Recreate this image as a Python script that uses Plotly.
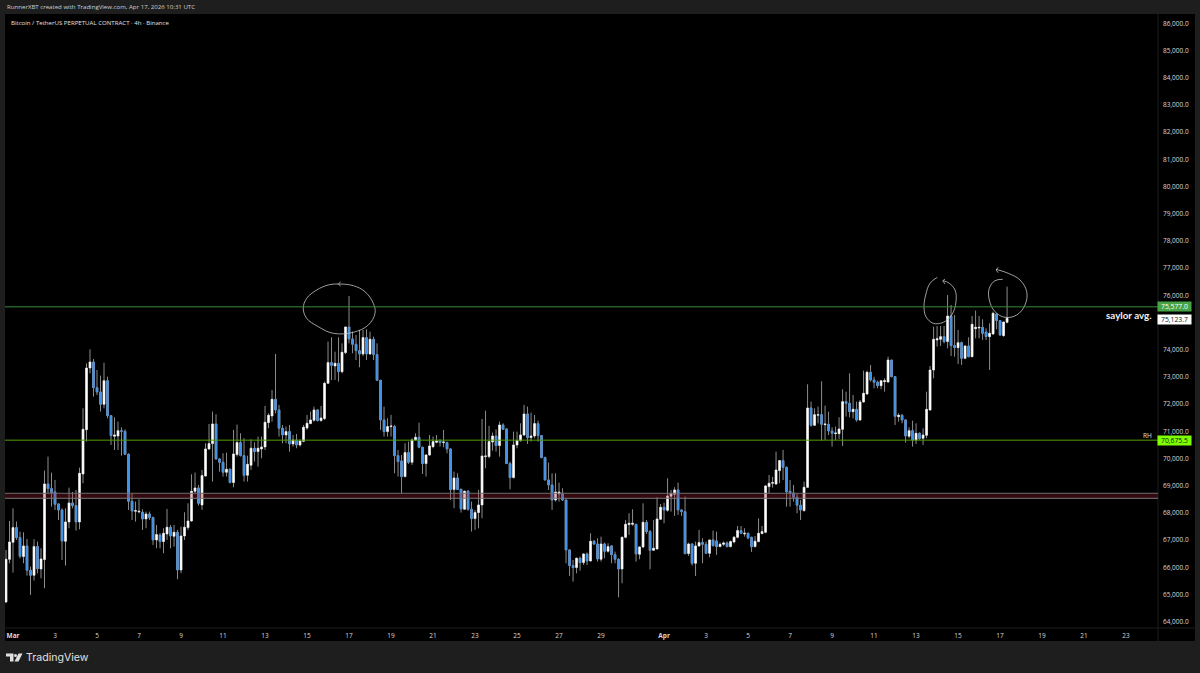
import pandas as pd
import plotly.graph_objects as go

# 4h candles
open_ = [64700,66268,66892,67431,67064,66366,66758,65863,65680,66733,
65912,66255,69036,68865,68742,68301,68080,66929,67640,68338,
68240,67640,69404,71033,73299,73520,72576,72417,71964,72833,
71547,70788,70800,70996,70971,70126,68399,68032,68007,67995,
67750,67933,67799,66978,67162,66917,67198,67444,67113,67260,
65875,67125,67431,67676,68767,68889,
68265,69331,70323,70519,71242,69956,69833,69466,69576,69086,
70115,70556,70078,69356,69723,70348,70225,70323,70397,71291,
71536,72148,71757,71083,70838,70960,70507,70654,70470,70605,
71095,71254,71377,71757,71365,71438,72737,73496,73374,73471,
73165,73864,74807,74366,74170,73937,73814,74415,73814,74354,
73790,72847,71389,70960,71144,71144,70078,
69882,69306,70188,69833,70654,70752,70384,69784,70102,70408,
70568,70617,70556,70556,70323,68828,69257,68840,68106,68767,
68106,67762,67983,68265,70041,70041,70580,70800,70445,71205,
71058,69784,69269,70470,70629,70837,71609,70739,70800,71254,
70813,70004,69183,69000,68448,68669,68693,68448,66611,66035,
65962,66305,66145,66464,66207,66930,66831,
66268,66831,66561,66758,66439,66268,65912,67076,67542,67554,
67554,66451,66721,67627,67284,66598,66647,67738,68178,68068,
68583,68656,68816,68080,68019,66476,66831,66120,66758,66880,
66819,66488,66978,66941,66733,66819,66868,66733,66905,67076,
67321,67198,67223,67076,66733,66917,67211,67260,68938,69060,
69036,69526,69894,69648,68766,68705,68546,68252,
68056,68913,71829,71192,71560,71584,71216,71229,70984,70886,
70886,71045,72062,72000,71694,71780,71388,72050,72343,73140,
72858,72772,72650,72797,72784,73593,72980,71510,71560,71388,
70788,70996,70653,70898,70714,70824,71755,
73225,74329,74353,74451,74268,75211,74121,74047,74231,73655,
74108,73716,74745,74770,74794,74623,74451,74550,75284,75040,
74488,74978]

high = [66610,67676,68142,67652,67284,67260,67015,65998,67003,66917,
66672,69526,70040,69452,69183,68326,68142,68142,68901,68742,
68816,69636,71817,73470,73985,73630,73225,73017,73495,72980,
71572,71486,71327,71118,71045,70163,68693,68387,68473,68105,
68019,68019,67836,67529,67223,67407,68117,67529,67529,67346,
67468,67995,68326,69391,69452,69000,
69551,70532,71242,71695,71597,69980,70164,70189,69613,71022,
71218,70899,70715,70078,70679,70568,70776,70776,71904,71634,
72491,73814,71940,71205,71144,71205,70838,70874,70679,71205,
71573,71695,71879,71781,71904,72798,74268,74427,73900,74427,
74206,74819,75946,74635,74513,74696,74696,74721,74635,74452,
74206,72859,71879,71450,71573,71205,70286,
70102,70531,70592,70715,70899,71290,70408,70127,70837,70776,
70837,70678,71021,70592,70347,69490,69428,68865,68791,68816,
68387,68081,68816,71425,71731,71168,70923,71045,71327,71266,
71082,69857,70960,70960,71266,71940,71878,71658,71572,71364,
70837,70041,69820,69428,69428,69085,68877,68473,66636,66243,
66329,66366,66489,66513,67224,66978,67040,
67100,66880,66855,66794,66549,66304,67100,67713,67958,68105,
67566,66733,68325,67713,67346,67713,68546,68301,68350,69244,
68816,68914,69085,68105,68570,66880,66855,66917,67346,67039,
66917,66990,67321,67284,66880,66917,66917,66953,67125,67492,
67492,67407,67247,67100,67125,67774,67492,69000,69367,69300,
70224,69918,70285,69673,69183,68999,68693,68448,
69122,72699,72062,71817,71878,72809,71915,71694,71118,71143,
71486,72515,72429,73103,72307,72062,72123,73201,73201,73409,
72980,72833,72858,72919,73715,73593,73005,71633,71608,71412,
71118,71363,71265,70935,71082,72429,73372,
74819,74843,74843,74843,75983,75615,75248,74697,74268,74145,
74427,75211,75407,75211,75089,74758,74941,75370,75309,75064,
74990,76289]

low = [64650,66120,65778,66978,66304,66120,65667,64957,65484,65753,
65569,65202,68693,68203,68080,67713,66243,66035,67407,68142,
67321,67370,69060,70592,73103,72246,72307,71694,71817,71449,
70469,70286,70286,70077,70102,68080,67713,67652,67958,67346,
67407,67713,66794,66672,66672,66488,66978,66672,66733,65533,
65753,66978,67346,67652,68693,68240,
68081,69307,70286,69123,69919,69490,69307,69307,69061,68914,
70041,70041,69123,69123,69552,69858,69674,69980,70286,71083,
71328,71634,70776,70532,70532,70225,70409,70348,70409,70568,
71022,71242,71328,71328,71328,71389,72712,72859,72859,72798,
73104,73814,74206,73839,73594,73324,73741,73594,73778,73594,
72822,71022,70776,70776,70776,69429,69307,
68693,69281,69771,69735,70629,70347,69404,69306,70065,70347,
70531,70408,70384,70163,68448,68142,68816,67983,68081,68057,
67285,67346,67407,67775,69612,69980,70261,70225,70041,71021,
69771,68840,69245,70347,70592,70800,70506,70592,70715,70592,
69980,69159,68816,68081,68387,68387,68412,66121,65655,65447,
65753,65851,66060,66060,66182,66795,66182,
66182,66304,66512,66120,66120,64871,65385,67039,67162,67500,
66182,66268,66672,67198,65900,66580,66635,67713,67590,68019,
68019,67860,67897,67860,66451,66390,66035,65655,66733,66120,
66463,66341,66733,66427,66708,66758,66708,66708,66855,67039,
67186,67100,67002,66537,66708,66892,67186,67223,68693,68900,
69000,69060,69183,68203,68203,68387,67958,67713,
68019,68889,71143,71168,71265,70629,70653,70837,70408,70653,
70690,70432,71510,71486,71449,71327,71351,72025,72307,72797,
72552,72552,72515,72429,72760,72956,71204,71327,71265,70555,
70714,70408,70506,70653,70469,70714,71731,
72920,74084,74108,74206,74023,73741,73716,73447,73410,73619,
73692,73692,74390,74390,74329,74329,73227,74513,74721,74476,
74451,74941]

close = [66268,66904,67431,67064,66378,66758,65863,65680,66733,65925,
66280,69036,68865,68718,68289,68080,66941,67640,68338,68240,
67640,69428,71045,73299,73520,72576,72417,71964,72833,71547,
70812,70837,70996,70971,70126,68399,68044,68056,68032,67750,
67933,67799,66978,67174,66917,67223,67444,67125,67260,65875,
67125,67444,67676,68767,68889,68326,
69343,70323,70519,71242,69956,69833,69466,69576,69086,70139,
70556,70078,69356,69760,70348,70225,70348,70397,71303,71561,
72148,71757,71083,70838,70960,70507,70654,70470,70617,71120,
71267,71389,71757,71365,71462,72737,73496,73398,73471,73165,
73876,74807,74366,74170,73937,73814,74415,73814,74354,73790,
72847,71389,70960,71144,71168,70078,69858,
69306,70188,69833,70654,70752,70384,69784,70102,70433,70592,
70617,70556,70580,70323,68828,69257,68828,68118,68767,68106,
67762,67983,68265,70065,70065,70592,70800,70445,71205,71045,
69784,69269,70470,70629,70837,71609,70739,70800,71254,70813,
70004,69183,69000,68448,68742,68742,68448,66611,66035,65962,
66305,66145,66464,66207,66930,66831,66280,
66831,66561,66733,66439,66268,65912,67076,67554,67590,67590,
66463,66721,67627,67284,66598,66672,67750,68178,68080,68595,
68681,68816,68080,68019,66476,66831,66120,66758,66880,66819,
66488,66978,66770,66733,66819,66868,66733,66917,67076,67321,
67223,67223,67051,66733,66929,67223,67284,68963,69060,69085,
69550,69894,69648,68742,68705,68546,68252,68080,
68913,71829,71192,71584,71584,71229,71241,70984,70898,70910,
71057,72062,72000,71694,71780,71388,72050,72368,73140,72858,
72772,72650,72833,72833,73593,72980,71523,71560,71388,70800,
70996,70653,70898,70702,70837,71780,73225,
74353,74378,74451,74268,75211,74121,74047,74231,73655,74108,
73716,74905,74794,74794,74574,74451,74574,75309,75040,74513,
74990,75123.7]

# the readings above came out about 1px low against the price scale
CALIB = 30
open_ = [v + CALIB for v in open_]
high = [v + CALIB for v in high]
low = [v + CALIB for v in low]
close = [v + CALIB for v in close]

dates = pd.date_range("2026-02-28 16:00", periods=len(close), freq="4h")

# 75,000 sits behind the last price tag
price_ticks = [p for p in range(64000, 87000, 1000) if p != 75000]
date_ticks = ["2026-03-%02d" % d for d in range(1, 30, 2)] + ["2026-04-%02d" % d for d in range(1, 24, 2)]
date_labels = ["<b>Mar</b>"] + [str(d) for d in range(3, 30, 2)] + ["<b>Apr</b>"] + [str(d) for d in range(3, 24, 2)]

saylor_avg = 75577.0
range_high = 70675.5
last_price = 75123.7
zone_top, zone_bottom = 68723, 68539

# hand drawn circles, in screen pixels
ring_1 = [(338.3,284),(353.3,285.7),(365,291.7),(373.3,303.3),(375,313.3),(368.3,325),(353.3,332.3),(333.3,333.3),
          (318.3,326.7),(306.7,318.3),(303.3,308.3),(306.7,298.3),(316.7,290),(328.3,285),(338.3,284)]
tip_1 = [(340.7,281.7),(338.3,284),(340.7,286)]
ring_2 = [(937.3,277.3),(930,283.3),(925.7,295),(924,306.7),(926,316.7),(933.3,323.3),(943.3,322.3),(951.7,315),
          (956,301.7),(955,290),(949.3,283.3),(943.3,280.7)]
tip_2 = [(945,279.3),(942.7,280.7),(945,284)]
ring_3 = [(1002.7,279.3),(995,280.7),(989.3,288.3),(989.3,300),(995,311.7),(1005,317.3),(1016.7,315),(1025,305),
          (1026.7,291.7),(1020,280),(1008.3,273.3),(996,269.3)]
tip_3 = [(998.3,267.3),(996,270),(998.3,272.7)]

LEFT, RIGHT, TOP, BOTTOM = 5, 1158, 14, 628
FONT = "Open Sans"


def px(x):
    return (x - LEFT) / (RIGHT - LEFT)


def py(y):
    return (BOTTOM - y) / (BOTTOM - TOP)


fig = go.Figure()

# wicks first, thin and grey
fig.add_trace(go.Candlestick(
    x=dates, open=open_, high=high, low=low, close=close,
    increasing=dict(line=dict(color="#8c8c8c", width=1), fillcolor="#8c8c8c"),
    decreasing=dict(line=dict(color="#8c8c8c", width=1), fillcolor="#8c8c8c"),
    whiskerwidth=0, showlegend=False, hoverinfo="skip",
))
# then the bodies on top
fig.add_trace(go.Candlestick(
    x=dates, open=open_, close=close,
    high=[max(o, c) for o, c in zip(open_, close)], low=[min(o, c) for o, c in zip(open_, close)],
    increasing=dict(line=dict(color="#ffffff", width=0.3), fillcolor="#ffffff"),
    decreasing=dict(line=dict(color="#4094ee", width=0.3), fillcolor="#4094ee"),
    whiskerwidth=0, showlegend=False, hoverinfo="skip",
))

for ring in (ring_1, ring_2, ring_3):
    fig.add_trace(go.Scatter(x=[p[0] for p in ring], y=[p[1] for p in ring], xaxis="x2", yaxis="y2", mode="lines",
                             line=dict(color="#c4c4c4", width=0.8, shape="spline", smoothing=1.1),
                             showlegend=False, hoverinfo="skip"))
for tip in (tip_1, tip_2, tip_3):
    fig.add_trace(go.Scatter(x=[p[0] for p in tip], y=[p[1] for p in tip], xaxis="x2", yaxis="y2", mode="lines",
                             line=dict(color="#c4c4c4", width=0.8), showlegend=False, hoverinfo="skip"))

shapes = [
    # black panel behind everything
    dict(type="rect", xref="paper", yref="paper", x0=px(5), x1=px(1195), y0=py(641), y1=py(14), layer="below",
         fillcolor="#000000", line_width=0),
    dict(type="line", xref="paper", yref="paper", x0=px(5), x1=px(1195), y0=py(628), y1=py(628), layer="below",
         line=dict(color="#1c1c1c", width=1)),
    dict(type="line", xref="paper", yref="paper", x0=px(1158), x1=px(1158), y0=py(641), y1=py(14), layer="below",
         line=dict(color="#1c1c1c", width=1)),
    # levels
    dict(type="line", xref="paper", yref="y", x0=0, x1=1, y0=saylor_avg, y1=saylor_avg,
         line=dict(color="#3a8a3a", width=1)),
    dict(type="line", xref="paper", yref="y", x0=0, x1=1, y0=range_high, y1=range_high,
         line=dict(color="#4f9e00", width=1)),
    dict(type="rect", xref="paper", yref="y", x0=0, x1=1, y0=zone_bottom, y1=zone_top,
         fillcolor="rgba(170,25,50,0.3)", line_width=0),
    dict(type="line", xref="paper", yref="y", x0=0, x1=1, y0=zone_top, y1=zone_top,
         line=dict(color="#6e6e6e", width=1)),
    dict(type="line", xref="paper", yref="y", x0=0, x1=1, y0=zone_bottom, y1=zone_bottom,
         line=dict(color="#7a7a7a", width=1)),
    # logo
    dict(type="path", xref="paper", yref="paper", fillcolor="#e0e0e0", line_width=0,
         path="M %f %f L %f %f L %f %f L %f %f L %f %f L %f %f Z" % (
             px(6), py(653.5), px(13.5), py(653.5), px(13.5), py(661.5), px(10), py(661.5), px(10), py(656.5), px(6), py(656.5))),
    dict(type="circle", xref="paper", yref="paper", fillcolor="#e0e0e0", line_width=0,
         x0=px(14), x1=px(17), y0=py(657), y1=py(654)),
    dict(type="path", xref="paper", yref="paper", fillcolor="#e0e0e0", line_width=0,
         path="M %f %f L %f %f L %f %f L %f %f Z" % (
             px(18.5), py(653.5), px(22.5), py(653.5), px(18.5), py(661.5), px(14.5), py(661.5))),
]


def axis_tag(price, text, bg, color):
    return dict(xref="paper", yref="y", x=px(1157), y=price, xanchor="left", yanchor="middle", text=text,
                showarrow=False, bgcolor=bg, width=33, height=9, align="center", borderpad=0,
                font=dict(family=FONT, size=6.8, color=color))


annotations = [
    dict(xref="paper", yref="paper", x=px(5), y=py(7), xanchor="left", yanchor="middle", showarrow=False,
         text="RunnerXBT created with TradingView.com, Apr 17, 2026 10:31 UTC",
         font=dict(family=FONT, size=6.1, color="#d0d0d0")),
    dict(xref="paper", yref="paper", x=px(9), y=py(22), xanchor="left", yanchor="middle", showarrow=False,
         text="Bitcoin / TetherUS PERPETUAL CONTRACT · 4h · Binance",
         font=dict(family=FONT, size=6.1, color="#e0e0e0")),
    dict(xref="paper", yref="paper", x=px(24), y=py(657), xanchor="left", yanchor="middle", showarrow=False,
         text="TradingView", font=dict(family="Inter", size=10.6, color="#e0e0e0")),
    dict(xref="paper", yref="paper", x=px(1153.5), y=py(315), xanchor="right", yanchor="middle", showarrow=False,
         text="<b>saylor avg.</b>", font=dict(family="Lato", size=9.8, color="#f0f0f0")),
    dict(xref="paper", yref="paper", x=px(1154), y=py(435), xanchor="right", yanchor="middle", showarrow=False,
         text="RH", font=dict(family=FONT, size=6.5, color="#e0e0e0")),
    axis_tag(saylor_avg, "75,577.0", "#46a346", "#ffffff"),
    axis_tag(last_price, "75,123.7", "#ffffff", "#111111"),
    axis_tag(range_high, "70,675.5", "#7fff00", "#111111"),
]

fig.update_layout(
    width=1200, height=673,
    margin=dict(l=LEFT, r=1200 - RIGHT, t=TOP, b=673 - BOTTOM, autoexpand=False),
    paper_bgcolor="#1e1e1e", plot_bgcolor="#000000",
    shapes=shapes, annotations=annotations, showlegend=False, boxgap=0.25,
    xaxis=dict(type="date", range=["2026-02-28 14:51", "2026-04-24 12:28"], rangeslider_visible=False,
               tickmode="array", tickvals=date_ticks, ticktext=date_labels, showgrid=False, zeroline=False,
               ticks="", tickfont=dict(family=FONT, size=6.5, color="#d8d8d8"), ticklabelstandoff=2),
    yaxis=dict(side="right", range=[63771, 86341], tickmode="array", tickvals=price_ticks,
               ticktext=["{:,.1f}".format(p) for p in price_ticks], showgrid=False, zeroline=False,
               ticks="", tickfont=dict(family=FONT, size=6.5, color="#d8d8d8"), ticklabelstandoff=4),
    xaxis2=dict(overlaying="x", range=[LEFT, RIGHT], visible=False),
    yaxis2=dict(overlaying="y", range=[BOTTOM, TOP], visible=False),
)

fig.write_html("out.html", config={"displayModeBar": False},
               post_script="document.body.style.margin='0';document.body.style.overflow='hidden';")
